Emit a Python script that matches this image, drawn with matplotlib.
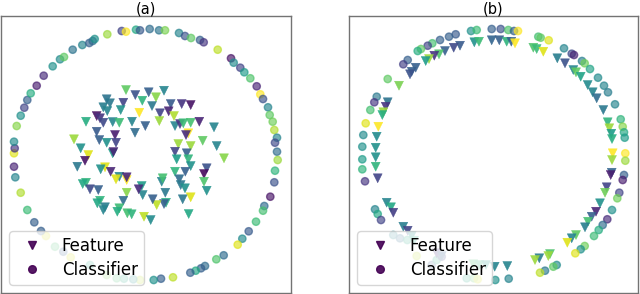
import matplotlib
matplotlib.use("Agg")
import matplotlib.pyplot as plt
from matplotlib.lines import Line2D
import numpy as np

# ---------------- Panel (a) ----------------
a_clf_x = [107.3,121.7,126,136,140,149.7,159,165,179,185,191,200,203.7,217.7,231,233.7,240.3,244.3,250.3,256.7,
           260.3,263,268,269.7,272.7,274.3,277,275,277,277.7,275,274.3,270.3,264.3,263,256,248.7,242.3,237.7,
           223.7,216.3,205,201,195.7,190.3,173,161,153.7,140,133.3,124,116.7,106.7,90,70.7,63.3,55,46,41,34.3,
           27.3,20.7,15.3,14,14,14.7,14,16.7,20.7,24.3,27.3,30.7,36.7,43.7,52.7,60,64,72.7,82.3,89.3,92.7,94.7]
a_clf_y = [34.3,31,31.7,29.7,30.3,29,30.3,30.3,33,36,38,40,42.3,49.7,58.3,62.7,67.7,72.3,78.3,86.3,
           94.3,99,107.3,115,121.7,130,137.7,142.7,151.7,160,170.7,182.3,196.7,206,210.7,221.7,231.3,238.7,244.7,
           255.3,259.3,266,268.3,270.7,272.7,277.3,278.7,280,280,279.3,278.7,278.3,275,265,257.3,251.7,246.7,236,231,222.3,
           210,192.7,177.3,166.7,153.3,148.3,141.7,126,115.7,107.7,100,93.3,85.7,75.7,66.3,59.3,57,49.7,45,43,41,39]
a_clf_c = [0.85,0.2,1.0,0.6,0.28,0.35,0.38,0.8,0.45,0.25,0.75,0.3,0.15,0.9,0.05,0.48,0.2,0.55,0.72,0.1,
           1.0,0.25,0.45,0.75,0.78,0.88,0.45,0.22,0.35,0.85,0.65,0.25,0.05,0.35,0.7,0.68,0.28,0.48,0.95,
           0.35,0.72,0.35,0.3,0.6,0.3,0.9,0.3,0.5,0.9,0.5,0.6,0.7,0.8,0.6,0.95,0.3,0.7,0.95,0.3,0.3,
           0.68,0.88,0.45,0.1,0.95,0.15,0.48,0.82,0.5,0.2,0.3,0.62,0.08,0.12,0.5,0.48,0.75,0.38,0.45,0.3,0.35,0.5]

a_feat_x = [126,135.3,148.7,156,164,106.7,110,123.3,142.3,152,170.7,181.7,190.7,103.3,107.3,120.7,139.3,160,168.7,174,
            96.7,100,86,103.3,112.7,119.3,132,145.3,159.3,175,180,183.3,190.7,199.3,214,
            74,96.7,99.3,106.7,115,116,112.7,113.5,80.7,88.3,85,77.3,135,178.3,190.7,175,186.7,188.3,186,202.7,216.7,224,
            176.7,188.3,190.7,206.7,204,204,175,185.3,179.3,180.7,185,206.7,190.7,182.7,161.7,162.7,165.3,166,164,156.7,
            152.7,142.7,141.7,138.7,126.7,123.3,105,100.7,110.7,119.3,126.7,126.7,116,86,82.7,90,98.3,100,97.3,105,103.3,
            119.3,117.3,127.3,131.7,144,150.7,188.7]
a_feat_y = [90,95,92.3,97.3,90.7,99.3,103.3,102.7,100.7,106,104,104,105,107.3,111,110,112.7,113.3,111.3,116,
            116,118.3,121.7,122.7,122,122.7,121.7,126,121,126,124,123.3,122.7,121.7,127.3,
            139.3,131.7,140,142.7,135,142.7,153.3,152,148.3,155,160.7,166.7,132.7,144,146,151.7,153.3,133.3,135,140.7,146,158.3,
            159.3,159.3,166,168.3,174,181.7,171.7,171.7,179.3,185,188.3,190.7,197.3,199.3,181.7,178.3,192.7,202.7,204,205,
            199.3,195,186,189.3,192.7,200.7,167.3,169.3,171.7,176.7,180,177.3,179.3,182.7,184,189.3,190,200.7,203.3,207.3,210,
            208.3,211.7,213.3,214.3,216.7,220,214]
a_feat_c = [0.75,0.25,0.3,0.82,0.45,0.38,0.4,0.2,0.65,0.4,0.28,0.15,0.05,0.42,0.45,0.5,1.0,0.2,0.1,0.88,
            0.05,0.15,0.62,0.22,0.45,0.68,0.45,0.3,0.85,0.45,0.15,0.68,0.7,0.1,0.45,
            0.85,0.28,0.3,0.5,0.08,0.2,0.55,0.1,0.5,0.95,0.05,0.4,0.35,0.85,0.85,0.2,0.3,1.0,0.12,0.75,0.45,0.82,
            0.55,0.65,0.5,0.25,0.02,0.72,0.65,0.3,0.35,0.4,0.5,0.5,0.95,0.4,0.45,0.7,0.4,0.62,0.3,0.9,
            0.3,0.45,0.55,0.12,0.82,0.35,0.95,0.5,0.1,0.45,1.0,0.1,0.95,0.65,0.6,0.22,0.3,0.65,0.6,0.42,0.45,
            0.68,0.62,0.7,0.65,0.9,0.48,0.6]

# ---------------- Panel (b) ----------------
b_clf_x = [471,476.7,491.7,455.7,449,440,432.3,427.7,421,417.7,407.7,403.3,387.7,376.7,374.3,370.3,365.7,363.3,362.3,
           362.3,362.3,365,375,377.7,381,393.3,400,407.3,416.7,431.7,436.7,441.7,466.7,474,477.7,495.3,508.7,
           500.7,508.3,514,518,538.3,540.7,548.7,564,571.7,574,582,584.7,590,598,604,608,615,620.7,622.7,624,624.7,
           625.3,625.3,624,622.7,619.3,617.3,612,607.3,602.7,598.7,594,584.7,580.7,575.3,556.7,553.3,545,540]
b_clf_y = [31,30,29,34.3,36.7,40,43.3,45.7,49,51,60,64.3,79,96.7,102.3,110,123.3,135,146.7,
           159.3,169.3,181.3,209.3,214,220,235,238.3,240,256,265,260,256.7,278.3,278.3,279.3,280,278.7,
           29,30,31,31,36.7,37.7,40.3,48.3,53.7,55,61,63.3,69,77.7,85.7,92.3,104.3,119.3,126.7,132.3,137.7,
           153.3,160.7,175,180,192.7,198.3,210,219.3,225,230,236,246,249.3,253.3,265,266.7,270.7,272.7]
b_clf_c = [0.5,0.68,0.3,0.28,0.3,0.3,0.7,0.2,0.75,0.62,0.3,0.18,0.75,0.4,0.15,0.7,0.95,0.48,0.5,
           0.55,0.65,0.15,0.45,0.6,0.2,0.45,0.35,0.6,0.9,0.3,0.6,0.2,0.6,0.75,0.95,0.5,0.45,
           0.25,0.72,0.3,1.0,0.7,0.75,0.95,0.45,0.22,0.1,0.42,0.78,0.58,0.48,0.45,0.42,0.45,0.65,0.82,0.6,0.55,
           1.0,0.85,0.3,0.08,0.2,0.78,0.5,0.12,0.35,0.62,0.68,0.78,0.5,0.95,0.48,0.75,0.4,0.9]

b_feat_x = [474.3,479,491.7,460,453.7,445,439,434.3,429,425.7,415.7,411.7,410,399,387.7,385.7,383.3,382.3,378.3,376.7,
            375.7,375.7,375.7,377.7,386.7,391,393.3,403.3,407.7,411.7,414,436.7,441.7,473.3,479.3,486,494.7,507.3,
            499.3,506.7,511.3,515,533.3,536.7,543.3,557.3,565,573.3,576,580.7,587.7,592.7,596.7,603.3,607.7,609.3,611.3,612,
            612.7,612,611.7,610.7,606.7,605,600,596,591.7,588,585,576,571.7,567.3,550,548.3,539.3,535]
b_feat_y = [42.3,41.7,40.3,45.7,47.7,51,54.3,55.7,59,61,67.7,71.7,74.3,85.7,102.3,106.7,112.3,115,126.7,136.7,
            147.7,157.3,166.7,178.3,202.7,207.3,212.7,226.7,230.7,236,240.7,253.3,256,264.3,265,265,266.7,266,
            40.3,41.7,41.7,43.3,47.7,49,51.7,58.3,63.3,70,72.3,76.7,85,92.3,98.3,110,122.3,128.3,133.7,139,
            153.3,160,172.7,175,187.3,192.7,203.3,211.7,216.7,221.7,227.3,235,238.3,242.7,254,256,258.3,260]
b_feat_c = [0.5,0.68,0.32,0.28,0.22,0.3,0.72,0.15,0.85,0.55,0.3,0.3,0.25,0.8,0.38,0.15,0.85,0.62,1.0,0.48,
            0.5,0.5,0.65,0.2,0.45,0.6,0.18,0.42,0.2,0.5,0.6,0.15,0.3,0.7,0.65,0.55,0.45,0.45,
            0.3,0.65,0.3,1.0,0.72,0.68,0.95,0.42,0.25,0.45,0.75,0.58,0.48,0.45,0.35,0.4,0.65,0.85,0.55,0.62,
            1.0,0.85,0.32,0.08,0.2,0.78,0.5,0.1,0.3,0.7,0.42,0.75,0.45,0.95,0.72,0.85,0.42,0.85]

titles = ["(a)", "(b)"]
legend_labels = ["Feature", "Classifier"]

fig = plt.figure(figsize=(6.4, 2.94), dpi=100)
W, H = 640, 294
ax_a = fig.add_axes([1 / W, (H - 293) / H, 290 / W, 277 / H])
ax_b = fig.add_axes([349 / W, (H - 293) / H, 289 / W, 277 / H])

panels = [
    (ax_a, (1, 291), a_feat_x, a_feat_y, a_feat_c, a_clf_x, a_clf_y, a_clf_c),
    (ax_b, (349, 638), b_feat_x, b_feat_y, b_feat_c, b_clf_x, b_clf_y, b_clf_c),
]

cmap = plt.get_cmap("viridis")
for (ax, xl, fx, fy, fc, cx, cy, cc), title in zip(panels, titles):
    ax.scatter(cx, cy, c=cc, cmap="viridis", vmin=0, vmax=1, marker="o", s=28, alpha=0.65)
    ax.scatter(fx, fy, c=fc, cmap="viridis", vmin=0, vmax=1, marker="v", s=42, alpha=0.9, linewidths=0.3)
    ax.set_xlim(*xl)
    ax.set_ylim(293, 16)
    ax.set_xticks([])
    ax.set_yticks([])
    for sp in ax.spines.values():
        sp.set_color("0.45")
        sp.set_linewidth(1.0)
    ax.set_title(title, fontsize=10.5, pad=2.0)
    handles = [
        Line2D([], [], linestyle="none", marker="v", markersize=5.5, color=cmap(0.0), alpha=0.9),
        Line2D([], [], linestyle="none", marker="o", markersize=5.5, color=cmap(0.0), alpha=0.9),
    ]
    ax.legend(handles, legend_labels, loc="lower left", fontsize=12, handletextpad=0.8,
              borderpad=0.35, labelspacing=0.35)

fig.savefig("out.png", dpi=100)
